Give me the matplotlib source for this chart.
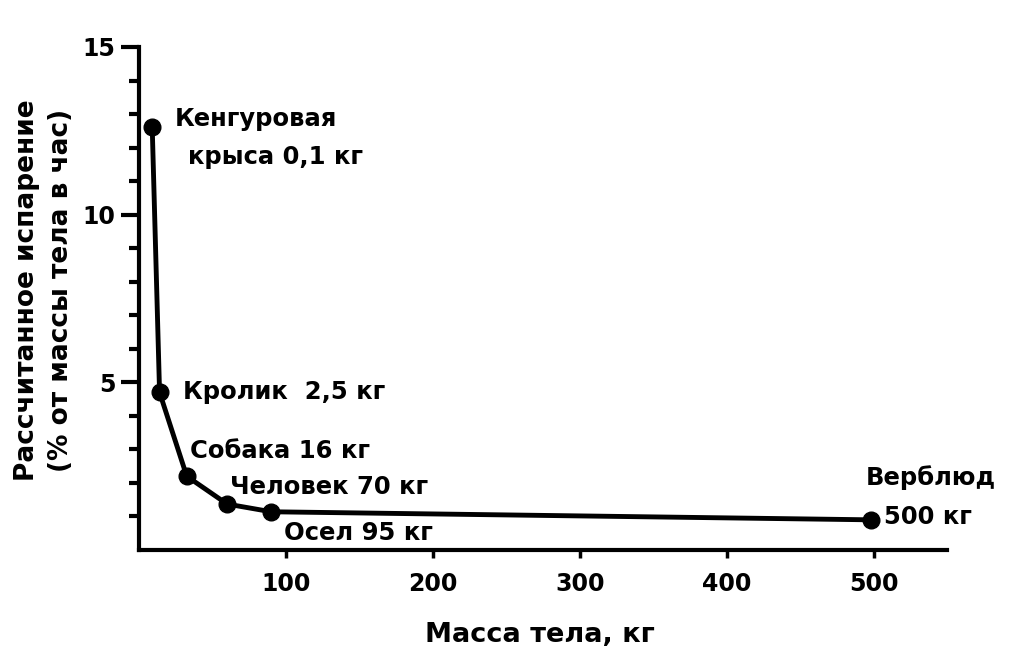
import numpy as np
from matplotlib import pyplot as plt

# animals, body mass as plotted on the x axis, evaporation (% body mass per hour)
names = ['Кенгуровая', 'Кролик  2,5 кг', 'Собака 16 кг', 'Человек 70 кг', 'Осел 95 кг', 'Верблюд']
mass = [9, 14, 32.5, 60, 90, 498]
evap = [12.6, 4.7, 2.2, 1.37, 1.14, 0.9]

xticks = [100, 200, 300, 400, 500]
yticks = [5, 10, 15]

plt.rcParams['font.family'] = ['DejaVu Sans']
plt.rcParams['font.weight'] = 'bold'

fig = plt.figure(figsize=(10.2, 6.64), dpi=100)
ax = fig.add_axes([139/1020, 1-550/664, (947-139)/1020, (550-47)/664])
ax.set_xlim(0, 550)
ax.set_ylim(0, 15)

ax.plot(mass, evap, color='black', lw=3.5, zorder=2)
ax.plot(mass, evap, 'o', color='black', ms=12, zorder=3)

# labels next to each point, offsets in pixels
offs = [(23, 8), (23, 0), (3, 25), (3, 17), (13, -21), (-5, 42)]
for i in range(len(names)):
	ax.annotate(names[i], (mass[i], evap[i]), xytext=offs[i], textcoords='offset pixels',
		ha='left', va='center', fontsize=17.5, fontweight='bold')
ax.annotate('крыса 0,1 кг', (mass[0], evap[0]), xytext=(36, -30), textcoords='offset pixels',
	ha='left', va='center', fontsize=17.5, fontweight='bold')
ax.annotate('500 кг', (mass[5], evap[5]), xytext=(13, 3), textcoords='offset pixels',
	ha='left', va='center', fontsize=17.5, fontweight='bold')

ax.spines['top'].set_visible(False)
ax.spines['right'].set_visible(False)
ax.spines['left'].set_linewidth(3)
ax.spines['bottom'].set_linewidth(3)

ax.set_xticks(xticks)
ax.set_yticks(yticks)
ax.set_yticks(np.arange(1, 15), minor=True)
ax.tick_params(axis='y', which='major', length=13, width=3, labelsize=17, pad=4)
ax.tick_params(axis='y', which='minor', length=7, width=3)
ax.tick_params(axis='x', which='major', length=6, width=2.5, labelsize=17, pad=10)
ax.tick_params(axis='x', which='minor', length=0)

fig.text(44/1020, 1-290/664, 'Рассчитанное испарение\n(% от массы тела в час)', rotation=90,
	ha='center', va='center', fontsize=19, fontweight='bold', linespacing=1.4)
fig.text(540/1020, 1-635/664, 'Масса тела, кг', ha='center', va='center', fontsize=19.5, fontweight='bold')

fig.savefig('out.png', dpi=100)
